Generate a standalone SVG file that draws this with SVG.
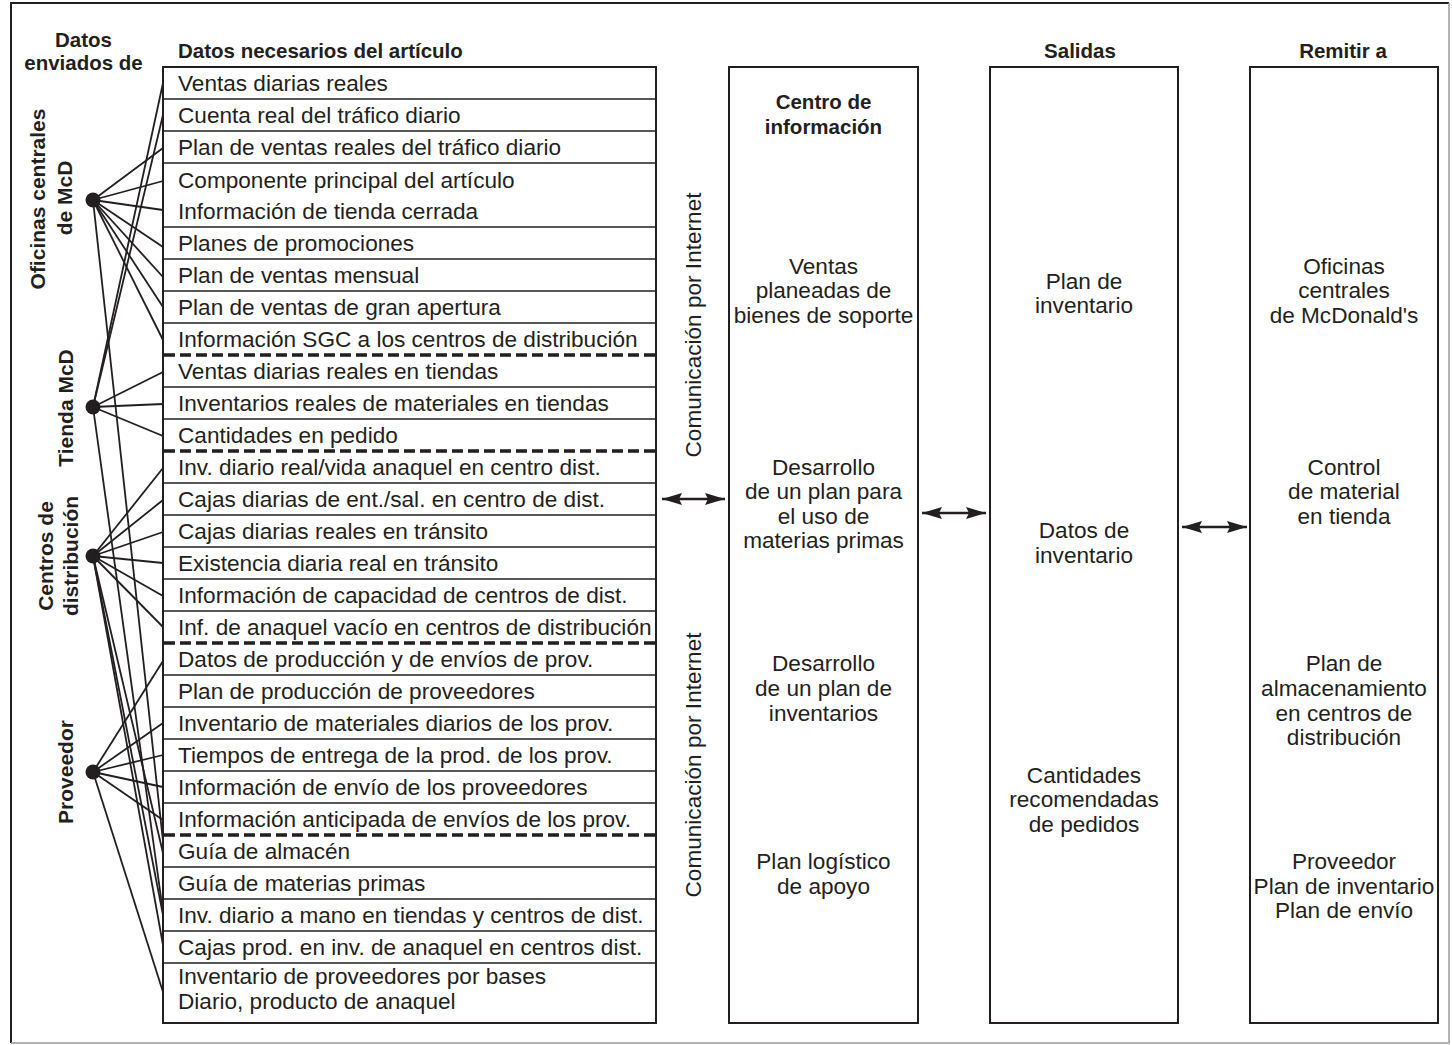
<svg xmlns="http://www.w3.org/2000/svg" width="1452" height="1045" viewBox="0 0 1452 1045">
  <style>
    text { font-family: "Liberation Sans", Arial, sans-serif; fill: #231f20; }
    .t { font-size: 22.6px; }
    .h { font-size: 20.5px; font-weight: bold; }
    .v { font-size: 21px; font-weight: bold; text-anchor: middle; }
    .m { text-anchor: middle; }
    .box { fill: none; stroke: #231f20; stroke-width: 2; }
    .row { stroke: #231f20; stroke-width: 1.6; }
    .sep { stroke: #231f20; stroke-width: 3.5; stroke-dasharray: 11 5; }
    .wire { stroke: #231f20; stroke-width: 1.8; fill: none; }
    .arrow { stroke: #231f20; stroke-width: 2.5; marker-start: url(#head); marker-end: url(#head); }
    .dot { fill: #231f20; }
  </style>
  <defs>
    <marker id="head" viewBox="0 0 20 12" markerUnits="userSpaceOnUse" markerWidth="20" markerHeight="12" refX="20" refY="6" orient="auto-start-reverse">
      <path d="M0,0 L20,6 L0,12 L3,6 z" fill="#231f20"/>
    </marker>
  </defs>

  <rect width="1452" height="1045" fill="#ffffff"/>
  <!-- outer frame -->
  <path d="M11,1043 V3 H1449" fill="none" stroke="#231f20" stroke-width="2"/>
  <path d="M1449,3 V1043 H11" fill="none" stroke="#9a9a9a" stroke-width="1.5"/>

  <!-- column headings -->
  <g id="headings">
    <text class="h m" x="83.5" y="47">Datos</text>
    <text class="h m" x="83.5" y="70">enviados de</text>
    <text class="h" x="178" y="58">Datos necesarios del artículo</text>
    <text class="h m" x="1080" y="58">Salidas</text>
    <text class="h m" x="1343" y="58">Remitir a</text>
  </g>

  <!-- data sources (rotated labels + hub dots) -->
  <g id="src-oficinas">
    <text class="v" transform="translate(45,199) rotate(-90)">Oficinas centrales</text>
    <text class="v" transform="translate(72,198) rotate(-90)">de McD</text>
    <circle class="dot" cx="93" cy="200" r="7.5"/>
  </g>
  <g id="src-tienda">
    <text class="v" transform="translate(73,408) rotate(-90)">Tienda McD</text>
    <circle class="dot" cx="93" cy="407" r="7.5"/>
  </g>
  <g id="src-centros">
    <text class="v" transform="translate(53,556) rotate(-90)">Centros de</text>
    <text class="v" transform="translate(78,556) rotate(-90)">distribución</text>
    <circle class="dot" cx="93" cy="556" r="7.5"/>
  </g>
  <g id="src-proveedor">
    <text class="v" transform="translate(73,772) rotate(-90)">Proveedor</text>
    <circle class="dot" cx="93" cy="772" r="7.5"/>
  </g>

  <!-- item table -->
  <g id="items">
    <rect class="box" x="163" y="67" width="493" height="956"/>
    <g class="row">
      <line x1="163" y1="99" x2="656" y2="99"/>
      <line x1="163" y1="131" x2="656" y2="131"/>
      <line x1="163" y1="163" x2="656" y2="163"/>
      <line x1="163" y1="227" x2="656" y2="227"/>
      <line x1="163" y1="259" x2="656" y2="259"/>
      <line x1="163" y1="291" x2="656" y2="291"/>
      <line x1="163" y1="323" x2="656" y2="323"/>
      <line x1="163" y1="387" x2="656" y2="387"/>
      <line x1="163" y1="419" x2="656" y2="419"/>
      <line x1="163" y1="483" x2="656" y2="483"/>
      <line x1="163" y1="515" x2="656" y2="515"/>
      <line x1="163" y1="547" x2="656" y2="547"/>
      <line x1="163" y1="579" x2="656" y2="579"/>
      <line x1="163" y1="611" x2="656" y2="611"/>
      <line x1="163" y1="675" x2="656" y2="675"/>
      <line x1="163" y1="707" x2="656" y2="707"/>
      <line x1="163" y1="739" x2="656" y2="739"/>
      <line x1="163" y1="771" x2="656" y2="771"/>
      <line x1="163" y1="803" x2="656" y2="803"/>
      <line x1="163" y1="867" x2="656" y2="867"/>
      <line x1="163" y1="899" x2="656" y2="899"/>
      <line x1="163" y1="931" x2="656" y2="931"/>
      <line x1="163" y1="963" x2="656" y2="963"/>
    </g>
    <g class="sep">
      <line x1="164" y1="355" x2="656" y2="355"/>
      <line x1="164" y1="451" x2="656" y2="451"/>
      <line x1="164" y1="643" x2="656" y2="643"/>
      <line x1="164" y1="835" x2="656" y2="835"/>
    </g>
    <g class="t">
      <text x="178" y="91">Ventas diarias reales</text>
      <text x="178" y="123">Cuenta real del tráfico diario</text>
      <text x="178" y="155">Plan de ventas reales del tráfico diario</text>
      <text x="178" y="188">Componente principal del artículo</text>
      <text x="178" y="219">Información de tienda cerrada</text>
      <text x="178" y="251">Planes de promociones</text>
      <text x="178" y="283">Plan de ventas mensual</text>
      <text x="178" y="315">Plan de ventas de gran apertura</text>
      <text x="178" y="347">Información SGC a los centros de distribución</text>
      <text x="178" y="379">Ventas diarias reales en tiendas</text>
      <text x="178" y="411">Inventarios reales de materiales en tiendas</text>
      <text x="178" y="443">Cantidades en pedido</text>
      <text x="178" y="475">Inv. diario real/vida anaquel en centro dist.</text>
      <text x="178" y="507">Cajas diarias de ent./sal. en centro de dist.</text>
      <text x="178" y="539">Cajas diarias reales en tránsito</text>
      <text x="178" y="571">Existencia diaria real en tránsito</text>
      <text x="178" y="603">Información de capacidad de centros de dist.</text>
      <text x="178" y="635">Inf. de anaquel vacío en centros de distribución</text>
      <text x="178" y="667">Datos de producción y de envíos de prov.</text>
      <text x="178" y="699">Plan de producción de proveedores</text>
      <text x="178" y="731">Inventario de materiales diarios de los prov.</text>
      <text x="178" y="763">Tiempos de entrega de la prod. de los prov.</text>
      <text x="178" y="795">Información de envío de los proveedores</text>
      <text x="178" y="827">Información anticipada de envíos de los prov.</text>
      <text x="178" y="859">Guía de almacén</text>
      <text x="178" y="891">Guía de materias primas</text>
      <text x="178" y="923">Inv. diario a mano en tiendas y centros de dist.</text>
      <text x="178" y="955">Cajas prod. en inv. de anaquel en centros dist.</text>
      <text x="178" y="984">Inventario de proveedores por bases</text>
      <text x="178" y="1009">Diario, producto de anaquel</text>
    </g>
  </g>

  <!-- internet link labels -->
  <g id="link-labels" class="t m">
    <text transform="translate(701,325) rotate(-90)">Comunicación por Internet</text>
    <text transform="translate(701,765) rotate(-90)">Comunicación por Internet</text>
  </g>

  <!-- information centre -->
  <g id="centro">
    <rect class="box" x="729" y="67" width="189" height="956"/>
    <text class="h m" x="823.5" y="109">Centro de</text>
    <text class="h m" x="823.5" y="134">información</text>
    <g class="t m">
      <text x="823.5" y="274">Ventas</text>
      <text x="823.5" y="298">planeadas de</text>
      <text x="823.5" y="323">bienes de soporte</text>
      <text x="823.5" y="475">Desarrollo</text>
      <text x="823.5" y="499">de un plan para</text>
      <text x="823.5" y="524">el uso de</text>
      <text x="823.5" y="548">materias primas</text>
      <text x="823.5" y="671">Desarrollo</text>
      <text x="823.5" y="696">de un plan de</text>
      <text x="823.5" y="721">inventarios</text>
      <text x="823.5" y="869">Plan logístico</text>
      <text x="823.5" y="894">de apoyo</text>
    </g>
  </g>

  <!-- outputs -->
  <g id="salidas">
    <rect class="box" x="990" y="67" width="188" height="956"/>
    <g class="t m">
      <text x="1084" y="289">Plan de</text>
      <text x="1084" y="313">inventario</text>
      <text x="1084" y="538">Datos de</text>
      <text x="1084" y="563">inventario</text>
      <text x="1084" y="783">Cantidades</text>
      <text x="1084" y="807">recomendadas</text>
      <text x="1084" y="832">de pedidos</text>
    </g>
  </g>

  <!-- recipients -->
  <g id="remitir">
    <rect class="box" x="1250" y="67" width="188" height="956"/>
    <g class="t m">
      <text x="1344" y="274">Oficinas</text>
      <text x="1344" y="298">centrales</text>
      <text x="1344" y="323">de McDonald's</text>
      <text x="1344" y="475">Control</text>
      <text x="1344" y="499">de material</text>
      <text x="1344" y="524">en tienda</text>
      <text x="1344" y="671">Plan de</text>
      <text x="1344" y="696">almacenamiento</text>
      <text x="1344" y="721">en centros de</text>
      <text x="1344" y="745">distribución</text>
      <text x="1344" y="869">Proveedor</text>
      <text x="1344" y="894">Plan de inventario</text>
      <text x="1344" y="918">Plan de envío</text>
    </g>
  </g>

  <!-- connectors: source hubs to table rows, and two-way links between columns -->
  <g id="connectors">
    <g class="wire">
      <!-- Oficinas centrales de McD -->
      <line x1="93" y1="200" x2="163" y2="148"/>
      <line x1="93" y1="200" x2="163" y2="181"/>
      <line x1="93" y1="200" x2="163" y2="210"/>
      <line x1="93" y1="200" x2="163" y2="247"/>
      <line x1="93" y1="200" x2="163" y2="277"/>
      <line x1="93" y1="200" x2="163" y2="307"/>
      <line x1="93" y1="200" x2="163" y2="340"/>
      <line x1="93" y1="200" x2="163" y2="841"/>
      <!-- Tienda McD -->
      <line x1="93" y1="407" x2="163" y2="83"/>
      <line x1="93" y1="407" x2="163" y2="115"/>
      <line x1="93" y1="407" x2="163" y2="372"/>
      <line x1="93" y1="407" x2="163" y2="404"/>
      <line x1="93" y1="407" x2="163" y2="436"/>
      <line x1="93" y1="407" x2="163" y2="912"/>
      <!-- Centros de distribución -->
      <line x1="93" y1="556" x2="163" y2="468"/>
      <line x1="93" y1="556" x2="163" y2="500"/>
      <line x1="93" y1="556" x2="163" y2="532"/>
      <line x1="93" y1="556" x2="163" y2="563"/>
      <line x1="93" y1="556" x2="163" y2="596"/>
      <line x1="93" y1="556" x2="163" y2="627"/>
      <line x1="93" y1="556" x2="163" y2="853"/>
      <line x1="93" y1="556" x2="163" y2="915"/>
      <line x1="93" y1="556" x2="163" y2="945"/>
      <!-- Proveedor -->
      <line x1="93" y1="772" x2="163" y2="661"/>
      <line x1="93" y1="772" x2="163" y2="723"/>
      <line x1="93" y1="772" x2="163" y2="755"/>
      <line x1="93" y1="772" x2="163" y2="787"/>
      <line x1="93" y1="772" x2="163" y2="820"/>
      <line x1="93" y1="772" x2="163" y2="992"/>
    </g>
    <line class="arrow" x1="662" y1="499" x2="725" y2="499"/>
    <line class="arrow" x1="922" y1="513" x2="986" y2="513"/>
    <line class="arrow" x1="1182" y1="527" x2="1247" y2="527"/>
  </g>
</svg>
